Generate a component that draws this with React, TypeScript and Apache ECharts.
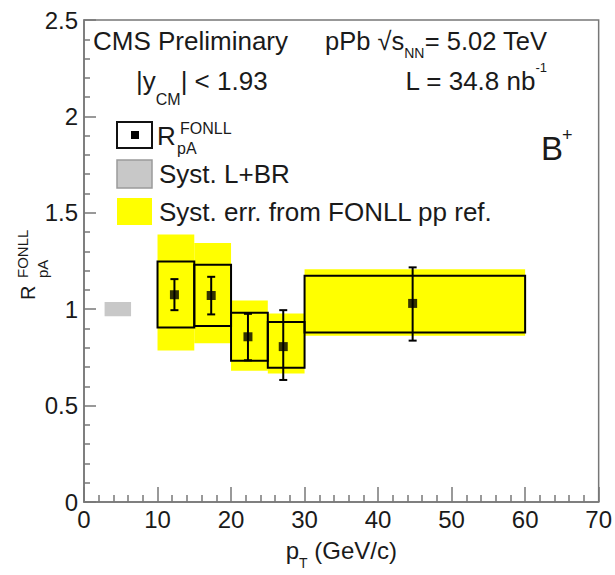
import React, { useEffect, useRef } from "react";
import * as echarts from "echarts";

// pT bins (GeV/c)
const binLow = [10, 15, 20, 25, 30];
const binHigh = [15, 20, 25, 30, 60];
// pT where each marker is placed
const ptMean = [12.3, 17.3, 22.3, 27.1, 44.7];
// R_pA^FONLL central values
const rpa = [1.075, 1.071, 0.857, 0.806, 1.03];
// statistical uncertainty (error bar ends)
const statLow = [0.995, 0.973, 0.735, 0.633, 0.837];
const statHigh = [1.156, 1.168, 0.976, 0.995, 1.217];
// systematic uncertainty (open boxes)
const systLow = [0.905, 0.913, 0.732, 0.696, 0.879];
const systHigh = [1.247, 1.23, 0.981, 0.933, 1.173];
// FONLL pp reference uncertainty (yellow bands)
const fonllLow = [0.786, 0.823, 0.681, 0.667, 0.862];
const fonllHigh = [1.388, 1.343, 1.045, 0.978, 1.207];
// global luminosity + branching ratio uncertainty, drawn around R = 1
const globalPt = [2.8, 6.4];
const globalR = [0.963, 1.037];

// axis ranges
const xRange = [0, 70, 10];
const yRange = [0, 2.5, 0.5];

const FONT = "'Liberation Sans', Arial, Helvetica, sans-serif";
const INK = "#1a1a1a";
const FRAME = "#777";

const bandData = binLow.map((lo, i) => [lo, binHigh[i], fonllLow[i], fonllHigh[i]]);
const systData = binLow.map((lo, i) => [lo, binHigh[i], systLow[i], systHigh[i]]);
const globalData = [[globalPt[0], globalPt[1], globalR[0], globalR[1]]];
const statData = ptMean.map((x, i) => [x, statLow[i], statHigh[i]]);
const pointData = ptMean.map((x, i) => [x, rpa[i]]);

function boxRenderer(style: any) {
  return (_params: any, api: any) => {
    const tl = api.coord([api.value(0), api.value(3)]);
    const br = api.coord([api.value(1), api.value(2)]);
    return {
      type: "rect",
      shape: { x: tl[0], y: tl[1], width: br[0] - tl[0], height: br[1] - tl[1] },
      style,
    };
  };
}

function errorBarRenderer(_params: any, api: any) {
  const top = api.coord([api.value(0), api.value(2)]);
  const bot = api.coord([api.value(0), api.value(1)]);
  const cap = 4;
  const st = { stroke: "#000", lineWidth: 2 };
  return {
    type: "group",
    children: [
      { type: "line", shape: { x1: top[0], y1: top[1], x2: bot[0], y2: bot[1] }, style: st },
      { type: "line", shape: { x1: top[0] - cap, y1: top[1], x2: top[0] + cap, y2: top[1] }, style: st },
      { type: "line", shape: { x1: bot[0] - cap, y1: bot[1], x2: bot[0] + cap, y2: bot[1] }, style: st },
    ],
  };
}

function txt(x: number, y: number, text: string, fontSize: number, extra: any = {}) {
  return {
    type: "text",
    x,
    y,
    silent: true,
    style: {
      text,
      fontSize,
      fontFamily: FONT,
      fill: INK,
      align: "left",
      verticalAlign: "middle",
      ...extra,
    },
  };
}

// rich segment style for graphic texts (zrender props)
function richStyle(fontSize: number, extra: any = {}) {
  return { fontSize, fontFamily: FONT, fill: INK, ...extra };
}

// rich segment style for axis names (option props)
function axisRich(fontSize: number, extra: any = {}) {
  return { fontSize, fontFamily: FONT, color: INK, ...extra };
}

export default function App() {
  const ref = useRef<HTMLDivElement>(null);

  useEffect(() => {
    if (!ref.current) return;
    const chart = echarts.init(ref.current, undefined, { renderer: "svg" });

    const axisLineStyle = { color: FRAME, width: 1.5 };

    chart.setOption({
      animation: false,
      backgroundColor: "#fff",
      textStyle: { fontFamily: FONT },
      grid: {
        left: 84,
        top: 20,
        width: 517,
        height: 491,
        show: true,
        borderColor: FRAME,
        borderWidth: 1.5,
        backgroundColor: "transparent",
      },
      xAxis: {
        type: "value",
        min: xRange[0],
        max: xRange[1],
        interval: xRange[2],
        axisLine: { show: true, onZero: false, lineStyle: axisLineStyle },
        axisTick: { show: true, inside: true, length: 15, lineStyle: axisLineStyle },
        minorTick: { show: true, splitNumber: 5, length: 7, lineStyle: axisLineStyle },
        splitLine: { show: false },
        axisLabel: { fontSize: 24, color: INK, fontFamily: FONT, margin: 5 },
        name: "{p|p}{sub|T}{n| (GeV/c)}",
        nameLocation: "middle",
        nameGap: 28,
        nameTextStyle: {
          color: INK,
          rich: {
            p: axisRich(24, { lineHeight: 40 }),
            n: axisRich(24, { lineHeight: 40 }),
            sub: axisRich(14, { lineHeight: 14, verticalAlign: "bottom" }),
          },
        },
      },
      yAxis: {
        type: "value",
        min: yRange[0],
        max: yRange[1],
        interval: yRange[2],
        axisLine: { show: true, onZero: false, lineStyle: axisLineStyle },
        axisTick: { show: true, inside: true, length: 12, lineStyle: axisLineStyle },
        minorTick: { show: true, splitNumber: 5, length: 6, lineStyle: axisLineStyle },
        splitLine: { show: false },
        axisLabel: { fontSize: 24, color: INK, fontFamily: FONT, margin: 6 },
      },
      series: [
        {
          name: "Syst. L+BR",
          type: "custom",
          renderItem: boxRenderer({ fill: "#c8c8c8" }),
          data: globalData,
          encode: { x: [0, 1], y: [2, 3] },
          z: 1,
          silent: true,
        },
        {
          name: "Syst. err. from FONLL pp ref.",
          type: "custom",
          renderItem: boxRenderer({ fill: "#ffff00" }),
          data: bandData,
          encode: { x: [0, 1], y: [2, 3] },
          z: 2,
          silent: true,
        },
        {
          name: "Syst.",
          type: "custom",
          renderItem: boxRenderer({ fill: "rgba(0,0,0,0)", stroke: "#000", lineWidth: 2 }),
          data: systData,
          encode: { x: [0, 1], y: [2, 3] },
          z: 3,
          silent: true,
        },
        {
          name: "Stat.",
          type: "custom",
          renderItem: errorBarRenderer,
          data: statData,
          encode: { x: 0, y: [1, 2] },
          z: 4,
          silent: true,
        },
        {
          name: "R_pA",
          type: "scatter",
          data: pointData,
          symbol: "rect",
          symbolSize: 9,
          itemStyle: { color: "#000" },
          z: 5,
          silent: true,
        },
      ],
      graphic: [
        // header texts
        txt(93, 41, "CMS Preliminary", 26),
        {
          type: "text",
          x: 136,
          y: 81,
          silent: true,
          style: {
            text: "{n||y}{sub|CM}{n|| < 1.93}",
            align: "left",
            verticalAlign: "middle",
            rich: {
              n: richStyle(26, { lineHeight: 52 }),
              sub: richStyle(16, { lineHeight: 16, verticalAlign: "bottom" }),
            },
          },
        },
        {
          type: "text",
          x: 547,
          y: 41,
          silent: true,
          style: {
            text: "{n|pPb \u221As}{sub|NN}{n|= 5.02 TeV}",
            align: "right",
            verticalAlign: "middle",
            rich: {
              n: richStyle(25.5, { lineHeight: 38 }),
              sub: richStyle(14, { lineHeight: 14, verticalAlign: "bottom" }),
            },
          },
        },
        {
          type: "text",
          x: 547,
          y: 81,
          silent: true,
          style: {
            text: "{n|L = 34.8 nb}{sup|-1}",
            align: "right",
            verticalAlign: "middle",
            rich: {
              n: richStyle(26, { lineHeight: 40 }),
              sup: richStyle(13, { lineHeight: 13, verticalAlign: "top" }),
            },
          },
        },
        txt(541, 148, "B", 33),
        txt(562, 135, "+", 18),
        // legend entries
        {
          type: "rect",
          silent: true,
          shape: { x: 117, y: 122, width: 35, height: 26 },
          style: { fill: "#fff", stroke: "#111", lineWidth: 2 },
        },
        {
          type: "rect",
          silent: true,
          shape: { x: 131, y: 131, width: 8, height: 8 },
          style: { fill: "#000" },
        },
        txt(157, 136, "R", 26),
        txt(180, 128, "FONLL", 16),
        txt(177, 148, "pA", 16),
        {
          type: "rect",
          silent: true,
          shape: { x: 117, y: 160, width: 35, height: 28 },
          style: { fill: "#c8c8c8", stroke: "#9a9a9a", lineWidth: 1.5 },
        },
        txt(159, 174, "Syst. L+BR", 26),
        {
          type: "rect",
          silent: true,
          shape: { x: 117, y: 198, width: 35, height: 27 },
          style: { fill: "#ffff00" },
        },
        txt(159, 212, "Syst. err. from FONLL pp ref.", 26),
        // rotated y-axis title
        {
          type: "group",
          x: 35,
          y: 300,
          rotation: Math.PI / 2,
          silent: true,
          children: [
            txt(0, -7, "R", 20),
            txt(22, -12.5, "FONLL", 15),
            txt(22, 7, "pA", 15),
          ],
        },
      ],
    });

    return () => chart.dispose();
  }, []);

  return (
    <div
      ref={ref}
      style={{ position: "absolute", left: 0, top: 0, width: 615, height: 575, background: "#fff" }}
    />
  );
}
